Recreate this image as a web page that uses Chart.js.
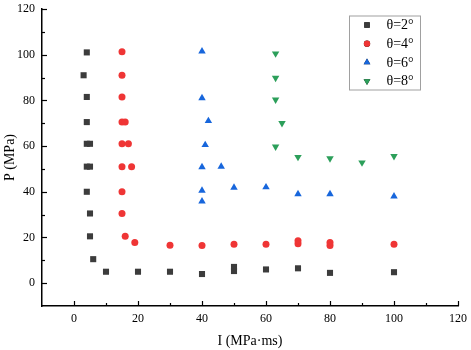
<!DOCTYPE html>
<html>
<head>
<meta charset="utf-8">
<script src="https://cdn.jsdelivr.net/npm/chart.js@4.4.0/dist/chart.umd.min.js"></script>
<style>
  body { margin: 0; background: #fff; }
  #wrap { width: 471px; height: 350px; }
</style>
</head>
<body>
<div id="wrap"><canvas id="scatterChart" width="471" height="350"></canvas></div>
<script>
// ---------- data ---------- //
const seriesLabels = ["θ=2°", "θ=4°", "θ=6°", "θ=8°"];

const i2 = [4, 3, 4, 4, 4, 5, 4, 5, 4, 5, 5, 6, 10, 20, 30, 40, 50, 50, 60, 70, 80, 100];
const p2 = [101, 91, 81.5, 70.5, 61, 61, 51, 51, 40, 30.5, 20.5, 10.5, 5, 5, 5, 4, 5.3, 7.1, 6, 6.5, 4.5, 4.8];

const i4 = [15, 15, 15, 15, 16, 15, 17, 15, 18, 15, 15, 16, 19, 30, 40, 50, 60, 70, 70, 80, 80, 100];
const p4 = [101.3, 91, 81.5, 70.5, 70.5, 61, 61, 51, 51, 40, 30.5, 20.5, 17.8, 16.6, 16.5, 17, 17, 17.2, 18.6, 16.5, 17.8, 17];

const i6 = [40, 40, 42, 41, 40, 46, 40, 40, 50, 60, 70, 80, 100];
const p6 = [101.5, 81, 71, 60.5, 50.8, 51, 40.5, 35.8, 41.8, 42, 39, 39, 38];

const i8 = [63, 63, 63, 65, 63, 70, 80, 90, 100];
const p8 = [100.5, 89.8, 80.3, 70, 59.7, 55.2, 54.6, 52.8, 55.6];

const xTicks = [0, 20, 40, 60, 80, 100, 120];
const yTicks = [0, 20, 40, 60, 80, 100, 120];

function toPoints(xs, ys) {
  return xs.map((x, index) => ({ x: x, y: ys[index] }));
}

const serif = "'Liberation Serif', 'Times New Roman', serif";

// inward major / minor ticks, like the original plot
const innerTicks = {
  id: "innerTicks",
  afterDraw(chart) {
    const ctx = chart.ctx;
    const xs = chart.scales.x;
    const ys = chart.scales.y;
    ctx.save();
    ctx.strokeStyle = "#000";
    ctx.lineWidth = 1.2;
    for (let v = 0; v <= 120; v += 10) {
      const len = v % 20 === 0 ? 5 : 3;
      const px = Math.round(xs.getPixelForValue(v)) + 0.5;
      ctx.beginPath();
      ctx.moveTo(px, ys.bottom);
      ctx.lineTo(px, ys.bottom - len);
      ctx.stroke();
      const py = Math.round(ys.getPixelForValue(v)) + 0.5;
      ctx.beginPath();
      ctx.moveTo(xs.left, py);
      ctx.lineTo(xs.left + len, py);
      ctx.stroke();
    }
    ctx.restore();
  },
};

// boxed legend in the top right corner of the plot
const boxLegend = {
  id: "boxLegend",
  afterDraw(chart) {
    const ctx = chart.ctx;
    const area = chart.chartArea;
    const boxX = area.right - 108.5;
    const boxY = area.top + 7;
    ctx.save();
    ctx.strokeStyle = "#a0a0a0";
    ctx.lineWidth = 1;
    ctx.strokeRect(boxX, boxY, 71, 74);
    chart.data.datasets.forEach((ds, index) => {
      const rowY = boxY + 9 + index * 18.7;
      Chart.helpers.drawPoint(ctx, {
        pointStyle: ds.pointStyle,
        rotation: ds.rotation || 0,
        radius: ds.pointRadius * 0.9,
        borderWidth: 0,
      }, boxX + 17.5, rowY);
      ctx.fillStyle = ds.backgroundColor;
      ctx.fill();
      ctx.fillStyle = "#000";
      ctx.font = "14px " + serif;
      ctx.textAlign = "left";
      ctx.textBaseline = "middle";
      ctx.fillText(ds.label, boxX + 37, rowY + 0.5);
    });
    ctx.restore();
  },
};

function makeSet(label, xs, ys, color, style, radius, rotation) {
  return {
    label: label,
    data: toPoints(xs, ys),
    pointStyle: style,
    rotation: rotation,
    pointRadius: radius,
    pointHoverRadius: radius,
    backgroundColor: color,
    borderColor: color,
    borderWidth: 0,
  };
}

new Chart(document.getElementById("scatterChart"), {
  type: "scatter",
  data: {
    datasets: [
      makeSet(seriesLabels[0], i2, p2, "#3c3c3c", "rect", 4.3, 0),
      makeSet(seriesLabels[1], i4, p4, "#ef3535", "circle", 3.5, 0),
      makeSet(seriesLabels[2], i6, p6, "#1766dc", "triangle", 4.3, 0),
      makeSet(seriesLabels[3], i8, p8, "#2c9f5a", "triangle", 4.3, 180),
    ],
  },
  options: {
    responsive: false,
    animation: false,
    layout: { padding: { top: 9, right: 13, left: 0, bottom: 0 } },
    plugins: {
      legend: { display: false },
      tooltip: { enabled: false },
    },
    scales: {
      x: {
        type: "linear",
        min: -10,
        max: 120,
        afterFit: (scale) => {
          scale.height = 44;
          scale.paddingLeft = 0;
          scale.paddingRight = 0;
        },
        grid: { display: false, drawTicks: false },
        border: { display: true, color: "#000", width: 1.5 },
        ticks: {
          stepSize: 10,
          autoSkip: false,
          maxRotation: 0,
          padding: 6,
          color: "#000",
          font: { family: serif, size: 12 },
          callback: (v) => (xTicks.includes(v) ? v : ""),
        },
        title: {
          display: true,
          text: "I (MPa·ms)",
          color: "#000",
          font: { family: serif, size: 14 },
          padding: 0,
        },
      },
      y: {
        type: "linear",
        min: -10,
        max: 120,
        afterFit: (scale) => {
          scale.width = 42;
          scale.paddingTop = 0;
          scale.paddingBottom = 0;
        },
        grid: { display: false, drawTicks: false },
        border: { display: true, color: "#000", width: 1.5 },
        ticks: {
          stepSize: 10,
          autoSkip: false,
          padding: 7,
          color: "#000",
          font: { family: serif, size: 12 },
          callback: (v) => (yTicks.includes(v) ? v : ""),
        },
        title: {
          display: true,
          text: "P (MPa)",
          color: "#000",
          font: { family: serif, size: 14 },
          padding: 2,
        },
      },
    },
  },
  plugins: [innerTicks, boxLegend],
});
</script>
</body>
</html>
